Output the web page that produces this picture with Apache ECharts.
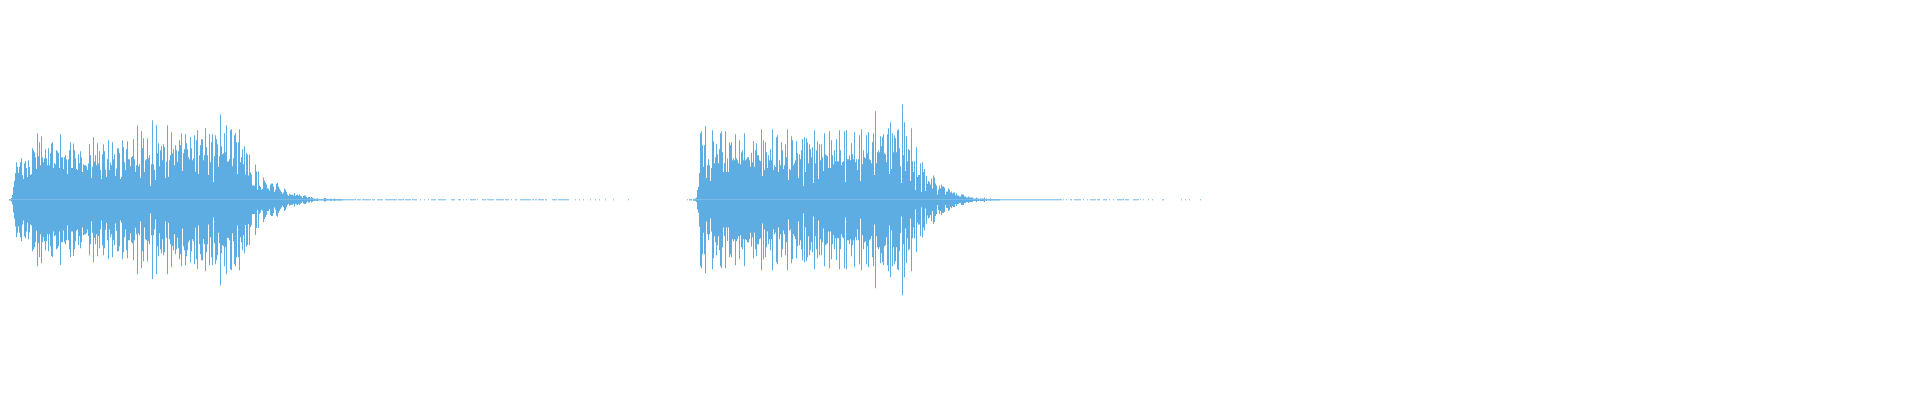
<!DOCTYPE html>
<html>
<head>
<meta charset="utf-8">
<style>html,body{margin:0;padding:0;background:#fff}#c{width:1920px;height:400px}</style>
<script src="https://cdn.jsdelivr.net/npm/echarts@6/dist/echarts.min.js"></script>
</head>
<body>
<div id="c"></div>
<script>
// Amplitudes (one value per sample).
const lead = [0,0,0,0,0];
const burst1a = [
0,0,0,0,2,2,5,14,38,57,
80,113,99,80,99,113,125,74,62,110,
116,95,68,119,98,74,77,155,149,143,
128,92,200,131,173,104,191,128,113,125,
152,125,104,155,104,140,169,173,95,110,
107,149,146,140,95,197,128,128,92,128,
134,122,77,122,149,173,95,95,169,149,
125,92,89,137,110,146,128,83,107,104];
const burst1b = [
104,101,89,109,167,134,65,99,188,114,
134,104,170,109,146,89,62,137,167,146,
91,69,122,179,89,113,104,173,122,137,
71,94,155,155,140,62,69,179,158,113,
89,152,176,122,122,101,128,131,182,122,
84,104,224,101,107,65,206,155,185,83,
119,122,185,125,134,41,107,239,107,89,
59,224,140,170,101,149,161,119,167,158];
const burst1c = [
65,114,224,69,119,134,203,139,152,104,
164,149,114,146,179,164,200,86,140,152,
197,170,152,128,122,188,155,119,125,194,
84,179,209,77,134,164,182,182,119,134,
215,158,134,74,197,113,173,197,53,131,
194,182,167,99,131,257,161,137,140,200,
143,224,114,116,122,209,212,101,125,194,
200,173,77,173,212,113,128,152,107,161];
const burst1d = [
76,141,136,73,136,82,76,43,43,43,
106,85,30,85,43,38,30,33,67,58,
52,46,34,34,28,46,49,49,40,23,
30,48,51,40,33,28,23,18,22,34,
30,23,16,12,18,16,15,15,12,20,
12,14,16,12,16,12,10,6,11,13,
13,9,5,8,8,4,8,6,4,4,
2,4,4,2,2,2,2,2,3,5,
5,3,2,2,2,3,3,2,2,4,2,2,2,2,3,2,2,2];
const burst2a = [
2,2,0,3,3,4,7,29,39,80,
200,206,164,99,164,221,65,104,122,104,
56,95,209,176,110,128,167,137,110,152,
200,206,143,83,110,206,83,124,83,173,
164,173,119,125,119,197,125,119,110,179,
107,143,149,119,200,119,122,128,128,119,
99,141,113,176,99,149,170,134,134,119,
116,212,71,179,89,173,143,95,134,119];
const burst2b = [
152,119,212,89,104,98,188,194,83,119,
104,173,149,92,104,167,128,212,59,92,
89,191,179,104,110,119,176,140,65,137,
122,149,182,41,188,83,185,173,110,167,
152,128,158,50,209,110,149,176,62,167,
119,167,128,86,200,137,134,131,95,206,
95,179,134,107,149,116,182,116,116,209,
149,104,113,116,206,53,209,122,122,134];
const burst2c = [
119,170,137,122,203,113,122,89,122,194,
56,212,107,149,128,125,194,140,203,122,
119,110,173,200,74,266,110,143,149,143,
191,161,188,197,140,137,113,197,215,77,
233,92,200,143,194,185,143,209,212,155,
101,50,287,134,233,86,191,116,152,149,
56,215,116,83,116,29,158,68,74,74,
110,23,113,83,92,26,71,47,56,53];
const burst2d = [
46,64,34,73,67,49,43,16,31,43,
34,46,40,40,37,16,25,25,34,31,
22,25,19,22,22,13,19,13,13,10,
10,16,16,16,10,10,7,7,10,7,
7,7,7,4,4,4,7,4,4,2,
4,4,4,4,7,2,4,2,2,2,
4,2,2,2,2,2,2,2,2,2];
// Sparse tails: alternating run lengths of faint samples and silence.
const tailLevel = 1.5;
const tailRuns1 = [13,1,4,1,9,1,3,2,6,2,12,1,6,1,6,1,5,3,1,3,1,3,1,2,5,2,8,5,4,3,3,2,1,2,1,3,6,1,1,4,4,1,7,2,8,1,4,2,1,3,2,3,11,1,2,1,2,1,6,1,2,5,5,1,11,6,1,3,1,3,1,6,1,4,1,3,1,5,1,7,1,14,1,58,1,1,1];
const tailRuns2 = [62,1,1,2,1,3,2,2,7,2,1,3,1,2,6,1,3,3,4,2,1,3,1,3,7,1,4,4,6,1,1,2,1,4,1,3,1,9,2,17,1,3,1,3,1,10,1];

const expand = runs => {
  const out = [];
  runs.forEach((n, i) => { for (let k = 0; k < n; k++) out.push(i % 2 === 0 ? tailLevel : 0); });
  return out;
};
const upper = [].concat(lead, burst1a, burst1b, burst1c, burst1d, expand(tailRuns1),
                        burst2a, burst2b, burst2c, burst2d, expand(tailRuns2));
while (upper.length < 1920) upper.push(0);
const lower = upper.map(v => -v);
const samples = upper.map((_, i) => i);

const chart = echarts.init(document.getElementById('c'), null, {renderer: 'canvas'});
chart.setOption({
  animation: false,
  backgroundColor: '#fff',
  grid: {left: 0, right: 0, top: -0.5, height: 400, containLabel: false},
  xAxis: {type: 'category', data: samples, show: false, boundaryGap: true},
  yAxis: {type: 'value', min: -600, max: 600, show: false},
  tooltip: {show: false},
  series: [
    {type: 'bar', data: upper, barWidth: 1, barGap: '-100%', itemStyle: {color: '#5dade2'}, silent: true},
    {type: 'bar', data: lower, barWidth: 1, barGap: '-100%', itemStyle: {color: '#5dade2'}, silent: true}
  ]
});
</script>
</body>
</html>
